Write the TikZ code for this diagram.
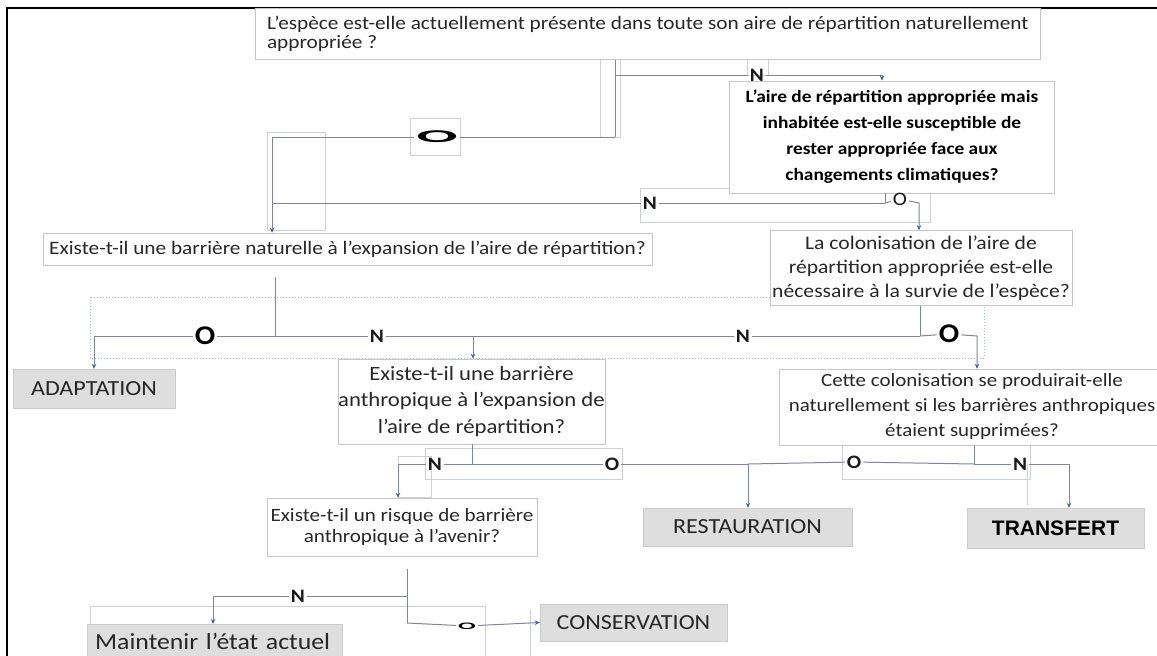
\documentclass[tikz,border=0pt]{standalone}
\usepackage{fontspec}
\setmainfont{Carlito}[FakeStretch=1.12]
\newfontfamily\arialfont{Liberation Sans}
\usetikzlibrary{arrows.meta,calc}
\definecolor{connc}{RGB}{125,135,150}
\definecolor{tipc}{RGB}{70,100,160}
\definecolor{ghostc}{RGB}{205,208,214}
\definecolor{dotc}{RGB}{170,190,225}
\definecolor{termfill}{RGB}{222,222,222}
\definecolor{txt}{RGB}{40,40,40}
\begin{document}
\begin{tikzpicture}[x=1pt,y=-1pt,
  box/.style={draw=gray!45, line width=0.6pt, fill=white, inner sep=0pt, text=txt, align=center, font=\fontsize{19}{24}\selectfont},
  term/.style={fill=termfill, draw=termfill!80!gray, line width=0.4pt, inner sep=0pt, text=black!85, font=\fontsize{21.5}{24}\selectfont},
  lab/.style={font=\bfseries\fontsize{19}{19}\selectfont, inner sep=2pt, text=black!90},
  bigO/.style={font=\bfseries\fontsize{27}{27}\selectfont, inner sep=2pt, text=black},
  conn/.style={draw=connc, line width=1pt},
  arr/.style={conn, -{Stealth[length=5pt,width=4.5pt,color=tipc]}},
  ghost/.style={draw=ghostc, line width=0.6pt},
  ghostdot/.style={draw=dotc, line width=1pt, dotted}
]
\clip (0,0) rectangle (1157,656);
\fill[white] (0,0) rectangle (1157,656);

% faint text-frame outlines
\draw[ghost] (600,40) rectangle (620,137);
\draw[ghost] (747,40) rectangle (768,75);
\draw[ghost] (410,118) rectangle (460,155);
\draw[ghost] (267,132) rectangle (325,230);
\draw[ghost] (640,188) rectangle (930,222);
\draw[ghost] (425,448) rectangle (622,479);
\draw[ghost] (842,429) rectangle (1030,479);
\draw[ghost] (398,456) rectangle (431,497);
\draw[ghost] (90,606) rectangle (485,662);
\draw[ghost] (530,610) -- (530,662);
\draw[ghost] (1027,464) -- (1027,505);
\draw[ghostdot] (90,297) rectangle (984,358);

% outer frame
\draw[black, line width=2pt] (7,662) -- (7,8) -- (1160,8);

% question boxes
\node[box, align=left, minimum width=785pt, minimum height=51pt, anchor=north west, font=\fontsize{19}{18.5}\selectfont] (q1) at (255,8)
  {L'espèce est-elle actuellement présente dans toute son aire de répartition naturellement\\appropriée ?};
\node[box, text=black, minimum width=325pt, minimum height=112pt, font=\bfseries\fontsize{17.3}{26}\selectfont] (q2) at (892,137)
  {L’aire de répartition appropriée mais\\inhabitée est-elle susceptible de\\rester appropriée face aux\\changements climatiques?};
\node[box, minimum width=609pt, minimum height=32pt] (q3) at (347.5,249)
  {Existe-t-il une barrière naturelle à l'expansion de l'aire de répartition?};
\node[box, minimum width=302pt, minimum height=75pt, font=\fontsize{19.3}{24}\selectfont] (q4) at (921,268)
  {La colonisation de l'aire de\\répartition appropriée est-elle\\nécessaire à la survie de l'espèce?};
\node[box, minimum width=257pt, minimum height=85pt, font=\fontsize{20.3}{26.5}\selectfont] (q5) at (471.5,401.5)
  {Existe-t-il une barrière\\anthropique à l'expansion de\\l'aire de répartition?};
\node[box, minimum width=386pt, minimum height=76pt, font=\fontsize{18.7}{25}\selectfont] (q6) at (972,407)
  {Cette colonisation se produirait-elle\\naturellement si les barrières anthropiques\\étaient supprimées?};
\node[box, minimum width=270pt, minimum height=58pt, font=\fontsize{18.8}{21}\selectfont] (q7) at (402,527)
  {Existe-t-il un risque de barrière\\anthropique à l'avenir?};

% outcome boxes
\node[term, minimum width=162pt, minimum height=39pt] (adapt) at (94,388.5) {ADAPTATION};
\node[term, minimum width=209pt, minimum height=38pt] (restau) at (747.5,527) {RESTAURATION};
\node[term, text=black, minimum width=177pt, minimum height=40pt, font=\arialfont\bfseries\fontsize{21}{22}\selectfont] (transf) at (1055.5,528) {TRANSFERT};
\node[term, minimum width=187pt, minimum height=37pt] (conserv) at (633.5,622.5) {CONSERVATION};
\node[term, inner xsep=8pt, text width=239pt, align=left, minimum height=34pt, anchor=north west, font=\fontsize{23}{24}\selectfont] (maint) at (87,624) {Maintenir l'état actuel};

% answer labels
\node[lab] (N1) at (757,75) {N};
\node[inner sep=2pt, font=\bfseries\fontsize{20}{20}\selectfont] (O1) at (437,137) {\scalebox{2.7}[0.9]{O}};
\node[lab] (N2) at (650,203) {N};
\node[lab, font=\fontsize{19}{19}\selectfont] (O2) at (900,199) {O};
\node[bigO] (O3) at (205,336) {O};
\node[lab] (N3) at (377,336) {N};
\node[lab] (N4) at (743,336) {N};
\node[bigO] (O4) at (949,334) {O};
\node[lab] (N5) at (435,464) {N};
\node[lab] (O5) at (612,464) {O};
\node[lab] (O6) at (854,462) {O};
\node[lab] (N6) at (1020,464) {N};
\node[lab] (N7) at (298,596) {N};
\node[inner sep=2pt, font=\bfseries\fontsize{18}{18}\selectfont] (O7) at (467,626) {\scalebox{1.3}[0.55]{O}};

% junction coordinates
\coordinate (j1) at (615,75);
\coordinate (j2) at (615,137);
\coordinate (c1) at (882,75);
\coordinate (c2) at (272,137);
\coordinate (c3) at (885,203);
\coordinate (c4) at (272,203);
\coordinate (c5) at (919,203);
\coordinate (c6) at (275,336);
\coordinate (c7) at (94,336);
\coordinate (c8) at (473,336);
\coordinate (c9) at (920,336);
\coordinate (c10) at (977,336);
\coordinate (c11) at (472,464);
\coordinate (c12) at (398,464);
\coordinate (c13) at (748,464);
\coordinate (c14) at (974,464);
\coordinate (c15) at (1069,464);
\coordinate (c16) at (407,596);
\coordinate (c17) at (407,623);
\coordinate (c18) at (213,596);

% connectors
\draw[conn] (j1 |- q1.south) -- (j2);
\draw[arr] (j1) -- (N1) -- (c1) -- (c1 |- q2.north);
\draw[arr] (j2) -- (O1) -- (c2) -- (c2 |- q3.north);
\draw[conn] (c3 |- q2.south) -- (c3);
\draw[conn] (c3) -- (N2) -- (c4);
\draw[arr] (c3) -- (O2) -- (c5) -- (c5 |- q4.north);

\draw[conn, shorten <=12pt] (c6 |- q3.south) -- (c6);
\draw[arr] (c6) -- (O3) -- (c7) -- (c7 |- adapt.north);
\draw[conn] (c6) -- (N3) -- (c8);
\draw[arr] (c8) -- (c8 |- q5.north);
\draw[conn] (c9 |- q4.south) -- (c9);
\draw[conn] (c9) -- (N4) -- (c8);
\draw[arr] (c9) -- (O4) -- (c10) -- (c10 |- q6.north);

\draw[conn] (c11 |- q5.south) -- (c11);
\draw[arr] (c11) -- (N5) -- (c12) -- (c12 |- q7.north);
\draw[conn] (c11) -- (O5) -- (c13);
\draw[arr] (c13) -- (c13 |- restau.north);
\draw[conn] (c14 |- q6.south) -- (c14);
\draw[conn] (c14) -- (O6) -- (c13);
\draw[arr] (c14) -- (N6) -- (c15) -- (c15 |- transf.north);

\draw[conn, shorten <=13pt] (c16 |- q7.south) -- (c17);
\draw[arr] (c16) -- (N7) -- (c18) -- (c18 |- maint.north);
\draw[arr] (c17) -- (O7) -- (conserv.west);
\end{tikzpicture}
\end{document}
